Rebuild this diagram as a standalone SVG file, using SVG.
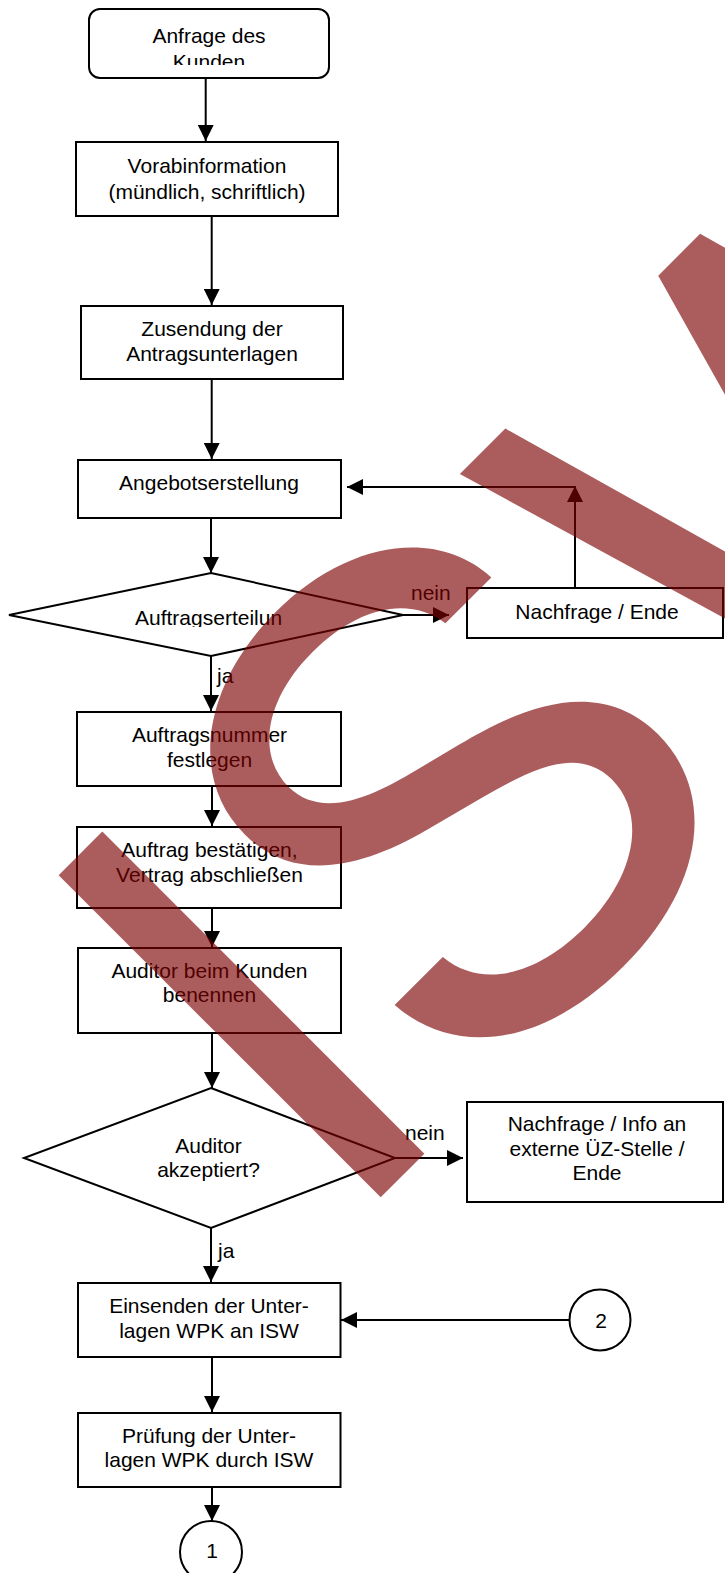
<svg xmlns="http://www.w3.org/2000/svg" width="725" height="1573" viewBox="0 0 725 1573">
<defs>
<style>
.b{fill:#fff;stroke:#000;stroke-width:2}
.t{font-family:"Liberation Sans",Arial,sans-serif;font-size:21px;fill:#000;text-anchor:middle}
.l{font-family:"Liberation Sans",Arial,sans-serif;font-size:21px;fill:#000}
.c{fill:none;stroke:#000;stroke-width:2}
.wm{font-family:"Liberation Sans",Arial,sans-serif;font-size:662px;fill:#7c0000;fill-opacity:0.64}
</style>
<marker id="ah" markerUnits="userSpaceOnUse" markerWidth="16" markerHeight="16" refX="15" refY="7.5" orient="auto" viewBox="0 0 15 15">
<path d="M0,0 L15,7.5 L0,15 z" fill="#000"/>
</marker>
<clipPath id="cp1"><rect x="89" y="9" width="240" height="56"/></clipPath>
<clipPath id="cp2"><rect x="100" y="590" width="185" height="37"/></clipPath>
</defs>
<rect width="725" height="1573" fill="#fff"/>

<g id="n1">
<rect class="b" x="89" y="9" width="240" height="69" rx="11"/>
<g clip-path="url(#cp1)">
<text class="t" x="209" y="43">Anfrage des</text>
<text class="t" x="209" y="68.5">Kunden</text>
</g>
</g>
<g id="n2">
<rect class="b" x="76" y="142" width="262" height="74"/>
<text class="t" x="207" y="173">Vorabinformation</text>
<text class="t" x="207" y="199">(mündlich, schriftlich)</text>
</g>
<g id="n3">
<rect class="b" x="81" y="306" width="262" height="73"/>
<text class="t" x="212" y="336">Zusendung der</text>
<text class="t" x="212" y="361">Antragsunterlagen</text>
</g>
<g id="n4">
<rect class="b" x="78" y="460" width="263" height="58"/>
<text class="t" x="209" y="490">Angebotserstellung</text>
</g>
<g id="d1">
<polygon class="b" points="211,573 403,615 211,656 9,615"/>
<g clip-path="url(#cp2)">
<text class="l" x="135" y="625">Auftragserteilun</text>
</g>
</g>
<g id="n5">
<rect class="b" x="467" y="588" width="256" height="50"/>
<text class="t" x="597" y="619">Nachfrage / Ende</text>
</g>
<g id="n6">
<rect class="b" x="77" y="712" width="264" height="74"/>
<text class="t" x="209.5" y="742">Auftragsnummer</text>
<text class="t" x="209.5" y="767">festlegen</text>
</g>
<g id="n7">
<rect class="b" x="77" y="827" width="264" height="81"/>
<text class="t" x="209.5" y="857">Auftrag bestätigen,</text>
<text class="t" x="209.5" y="882">Vertrag abschließen</text>
</g>
<g id="n8">
<rect class="b" x="78" y="948" width="263" height="85"/>
<text class="t" x="209.5" y="978">Auditor beim Kunden</text>
<text class="t" x="209.5" y="1002">benennen</text>
</g>
<g id="d2">
<polygon class="b" points="211,1088 395,1158 211,1228 24,1158"/>
<text class="t" x="208.5" y="1153">Auditor</text>
<text class="t" x="208.5" y="1177">akzeptiert?</text>
</g>
<g id="n9">
<rect class="b" x="467" y="1102" width="256" height="100"/>
<text class="t" x="597" y="1131">Nachfrage / Info an</text>
<text class="t" x="597" y="1156">externe ÜZ-Stelle /</text>
<text class="t" x="597" y="1180">Ende</text>
</g>
<g id="n10">
<rect class="b" x="78" y="1283" width="262.5" height="74"/>
<text class="t" x="209" y="1313">Einsenden der Unter-</text>
<text class="t" x="209" y="1338">lagen WPK an ISW</text>
</g>
<g id="k2">
<circle class="b" cx="600" cy="1320" r="30.5"/>
<text class="t" x="601" y="1328">2</text>
</g>
<g id="n11">
<rect class="b" x="78" y="1413" width="262.5" height="74"/>
<text class="t" x="209" y="1443">Prüfung der Unter-</text>
<text class="t" x="209" y="1467">lagen WPK durch ISW</text>
</g>
<g id="k1">
<circle class="b" cx="211" cy="1552" r="31"/>
<text class="t" x="212" y="1558">1</text>
</g>

<g id="connectors">
<path class="c" d="M205.7,78 V141" marker-end="url(#ah)"/>
<path class="c" d="M211.7,216 V305" marker-end="url(#ah)"/>
<path class="c" d="M211.7,379 V459" marker-end="url(#ah)"/>
<path class="c" d="M575,588 V486" marker-end="url(#ah)"/>
<path class="c" d="M575,487 H347" marker-end="url(#ah)"/>
<path class="c" d="M211,518 V573" marker-end="url(#ah)"/>
<path class="c" d="M403,615 H449" marker-end="url(#ah)"/>
<text class="l" x="411" y="600">nein</text>
<path class="c" d="M211,656 V711" marker-end="url(#ah)"/>
<text class="l" x="217" y="683">ja</text>
<path class="c" d="M212,786 V826" marker-end="url(#ah)"/>
<path class="c" d="M212,908 V947" marker-end="url(#ah)"/>
<path class="c" d="M212,1033 V1088" marker-end="url(#ah)"/>
<path class="c" d="M395,1158 H463" marker-end="url(#ah)"/>
<text class="l" x="405" y="1140">nein</text>
<path class="c" d="M211,1228 V1282" marker-end="url(#ah)"/>
<text class="l" x="218" y="1258">ja</text>
<path class="c" d="M569.5,1320 H341" marker-end="url(#ah)"/>
<path class="c" d="M212,1357 V1412" marker-end="url(#ah)"/>
<path class="c" d="M212,1487 V1521" marker-end="url(#ah)"/>
</g>

<g id="watermark" transform="translate(337.5,1240.5) rotate(-45)">
<text class="wm" x="0" y="0">I</text>
<text class="wm" transform="translate(166.4,0) scale(1.08,1)" x="0" y="0" style="font-family:Inter,'Liberation Sans',sans-serif">S</text>
<text class="wm" x="625.6" y="0">W</text>
</g>
</svg>
